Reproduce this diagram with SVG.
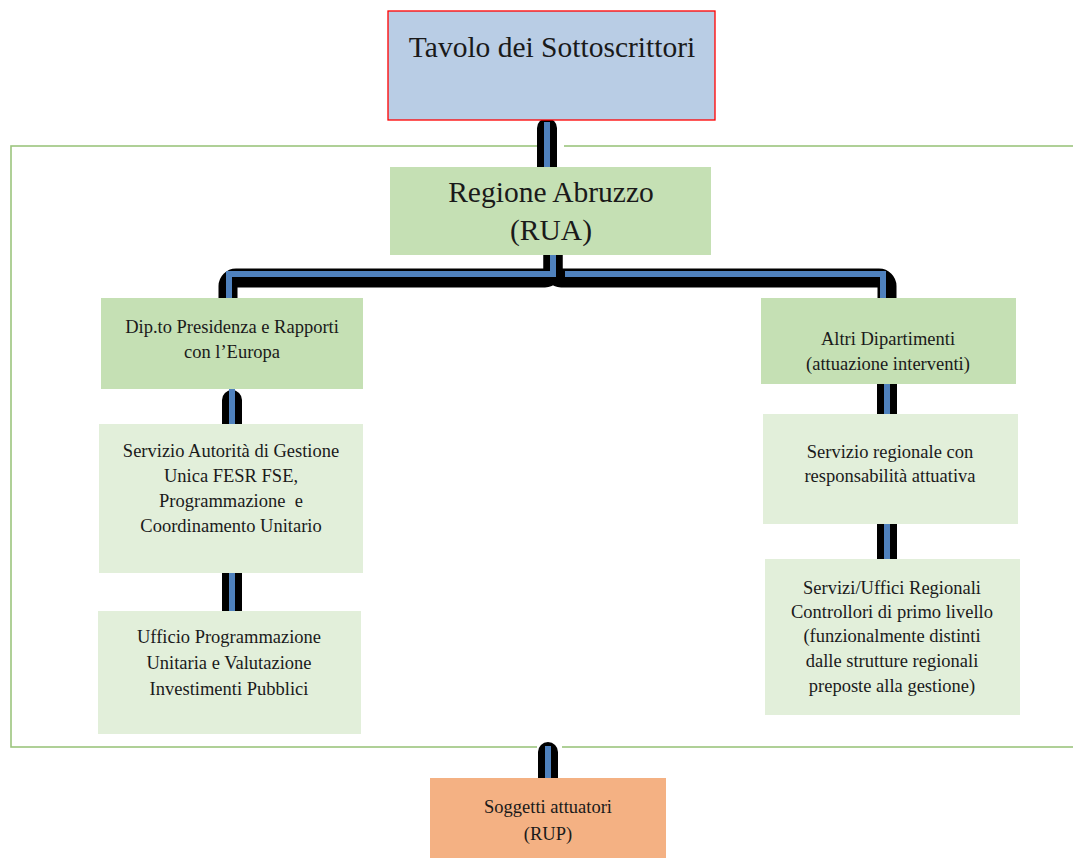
<svg xmlns="http://www.w3.org/2000/svg" width="1073" height="858" viewBox="0 0 1073 858">
<style>
text{font-family:"Liberation Serif","Times New Roman",serif;fill:#1a1a1a;text-anchor:middle}
.s{font-size:18.5px}
.b{font-size:29.5px}
.outer{fill:none;stroke:#9cc57e;stroke-width:1.6}
.blu{fill:none;stroke:#4f81bd;stroke-width:6;stroke-linejoin:miter}
.g1{fill:#c5e0b4}
.g2{fill:#e2efda}
</style>
<rect class="outer" x="11" y="146" width="1080" height="601"/>
<g id="connectors">
<rect x="537" y="117" width="27" height="50" fill="#fff"/>
<path d="M537,167 V128 a10,10 0 0 1 20,0 V167 Z" fill="#000"/>
<line class="blu" x1="547" y1="122" x2="547" y2="167"/>
<rect x="537" y="739" width="25" height="16" fill="#fff"/>
<path d="M538,778 V752 a10,10 0 0 1 20,0 V778 Z" fill="#000"/>
<line class="blu" x1="548" y1="746" x2="548" y2="778"/>
<path d="M222,389 V400 a10,10 0 0 1 20,0 V424 H222 Z" fill="#000"/>
<line class="blu" x1="232" y1="389" x2="232" y2="424"/>
<path d="M222,573 H242 V611 H222 Z" fill="#000"/>
<line class="blu" x1="232" y1="573" x2="232" y2="611"/>
<path d="M877,384 H897 V414 H877 Z" fill="#000"/>
<line class="blu" x1="887" y1="384" x2="887" y2="414"/>
<path d="M877,524 H897 V559 H877 Z" fill="#000"/>
<line class="blu" x1="887" y1="524" x2="887" y2="559"/>
<path d="M553,255 V270 a8,8 0 0 1 -8,8 H236 a8,8 0 0 0 -8,8 V298" fill="none" stroke="#000" stroke-width="19"/>
<path d="M553,255 V270 a8,8 0 0 0 8,8 H879 a8,8 0 0 1 8,8 V298" fill="none" stroke="#000" stroke-width="19"/>
<path class="blu" d="M553,255 V274 H229 V298"/>
<path class="blu" d="M565,274 H883 V298"/>
</g>
<g id="tavolo">
<rect x="388" y="11" width="327" height="109" fill="#b9cde5" stroke="#ff0000" stroke-width="1.3"/>
<text class="b" x="552" y="57">Tavolo dei Sottoscrittori</text>
</g>
<g id="regione">
<rect class="g1" x="390" y="167" width="321" height="88"/>
<text class="b" x="551" y="202">Regione Abruzzo</text>
<text class="b" x="551" y="240">(RUA)</text>
</g>
<g id="dip">
<rect class="g1" x="101" y="298" width="262" height="91"/>
<text class="s" x="232" y="333">Dip.to Presidenza e Rapporti</text>
<text class="s" x="232" y="358">con l’Europa</text>
</g>
<g id="altri">
<rect class="g1" x="761" y="298" width="255" height="86"/>
<text class="s" x="888" y="345">Altri Dipartimenti</text>
<text class="s" x="888" y="370">(attuazione interventi)</text>
</g>
<g id="servizio-autorita">
<rect class="g2" x="99" y="424" width="264" height="149"/>
<text class="s" x="231" y="457">Servizio Autorità di Gestione</text>
<text class="s" x="231" y="482">Unica FESR FSE,</text>
<text class="s" x="231" y="507">Programmazione&#160; e</text>
<text class="s" x="231" y="532">Coordinamento Unitario</text>
</g>
<g id="ufficio">
<rect class="g2" x="98" y="611" width="263" height="123"/>
<text class="s" x="229" y="643">Ufficio Programmazione</text>
<text class="s" x="229" y="669">Unitaria e Valutazione</text>
<text class="s" x="229" y="695">Investimenti Pubblici</text>
</g>
<g id="servizio-regionale">
<rect class="g2" x="763" y="414" width="255" height="110"/>
<text class="s" x="890" y="458">Servizio regionale con</text>
<text class="s" x="890" y="482">responsabilità attuativa</text>
</g>
<g id="servizi-uffici">
<rect class="g2" x="765" y="559" width="255" height="156"/>
<text class="s" x="892" y="594">Servizi/Uffici Regionali</text>
<text class="s" x="892" y="618">Controllori di primo livello</text>
<text class="s" x="892" y="642">(funzionalmente distinti</text>
<text class="s" x="892" y="667">dalle strutture regionali</text>
<text class="s" x="892" y="692">preposte alla gestione)</text>
</g>
<g id="soggetti">
<rect x="430" y="778" width="236" height="80" fill="#f4b183"/>
<text class="s" x="548" y="813">Soggetti attuatori</text>
<text class="s" x="548" y="840">(RUP)</text>
</g>
</svg>
